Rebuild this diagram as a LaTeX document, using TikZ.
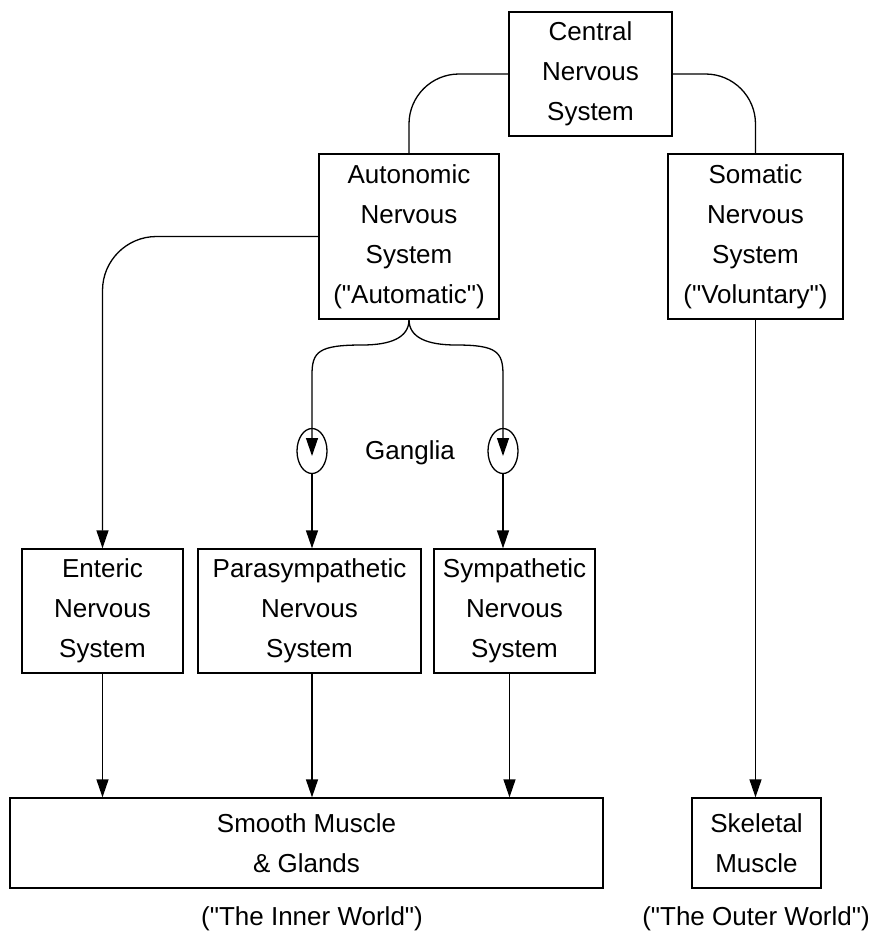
\documentclass[tikz,border=0pt]{standalone}
\usepackage{fontspec}
\setmainfont{Liberation Sans}
\usetikzlibrary{arrows.meta,shapes.geometric,calc}
\newcommand{\qq}{\textquotedbl}
\begin{document}
\begin{tikzpicture}[x=1pt,y=-1pt,
  txt/.style={font=\fontsize{26}{40}\selectfont},
  box/.style={txt,draw,line width=1.3pt,inner sep=0pt,align=center},
  lbl/.style={txt,inner sep=0pt},
  conn/.style={line width=1.3pt},
  arr/.style={conn,-{Triangle[width=12pt,length=18pt]}},
  gang/.style={draw,ellipse,line width=1.3pt,minimum width=30pt,minimum height=45pt,inner sep=0pt}
]
\useasboundingbox (0,0) rectangle (878,946);

% boxes
\node[box,minimum width=163pt,minimum height=124pt] (cns)  at (590.5,74)  {Central\\Nervous\\System};
\node[box,minimum width=180pt,minimum height=165pt] (ans)  at (409,236.5) {Autonomic\\Nervous\\System\\(\qq Automatic\qq)};
\node[box,minimum width=175pt,minimum height=165pt] (soma) at (755.5,236.5) {Somatic\\Nervous\\System\\(\qq Voluntary\qq)};
\node[box,minimum width=161pt,minimum height=124pt] (ent)  at (102.5,611) {Enteric\\Nervous\\System};
\node[box,minimum width=223pt,minimum height=124pt] (para) at (309.5,611) {Parasympathetic\\Nervous\\System};
\node[box,minimum width=161pt,minimum height=124pt] (symp) at (514.5,611) {Sympathetic\\Nervous\\System};
\node[box,minimum width=593pt,minimum height=90pt] (smooth) at (306.5,843) {Smooth Muscle\\\& Glands};
\node[box,minimum width=129pt,minimum height=90pt] (skel) at (756.5,843) {Skeletal\\Muscle};

% ganglia
\node[gang] (g1) at (312,451) {};
\node[gang] (g2) at (503,451) {};
\node[lbl] (gl) at (410,453) {Ganglia};

% bottom labels
\node[lbl] (inner) at (312,919) {(\qq The Inner World\qq)};
\node[lbl] (outer) at (756,919) {(\qq The Outer World\qq)};

% connectors from CNS
\draw[conn,rounded corners=50pt] (cns.west) -| (ans.north);
\draw[conn,rounded corners=50pt] (cns.east) -| (soma.north);

% autonomic to enteric
\draw[arr,rounded corners=54pt] (ans.west) -| (ent.north);

% autonomic split to ganglia
\draw[arr] (ans.south) .. controls (409,338) and (390,345) .. (362,345)
  .. controls (318,345) and (312,352) .. (312,375) -- ([yshift=-5pt]g1.center);
\draw[arr] (ans.south) .. controls (409,338) and (428,345) .. (456,345)
  .. controls (497,345) and (503,352) .. (503,375) -- ([yshift=-5pt]g2.center);

% ganglia to boxes
\draw[arr] (g1.south) -- (g1.south |- para.north);
\draw[arr] (g2.south) -- (g2.south |- symp.north);

% to muscles
\coordinate (pout) at ([xshift=2.5pt]para.south);
\coordinate (sout) at ([xshift=-5pt]symp.south);
\draw[arr] (ent.south) -- (ent.south |- smooth.north);
\draw[arr] (pout) -- (pout |- smooth.north);
\draw[arr] (sout) -- (sout |- smooth.north);
\draw[arr] (soma.south) -- (soma.south |- skel.north);
\end{tikzpicture}
\end{document}
